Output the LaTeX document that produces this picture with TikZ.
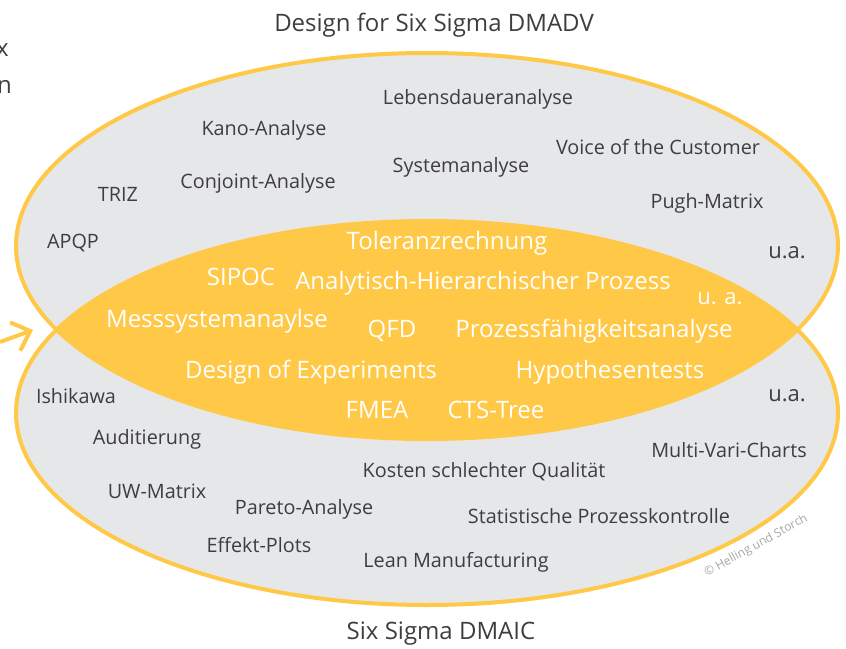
\documentclass[tikz,border=0pt]{standalone}
\usepackage{fontspec}
\setmainfont{Open Sans}
\usepackage{tikz}
\usetikzlibrary{positioning}
\usetikzlibrary{arrows.meta}
\usepackage{xcolor}
\definecolor{sigmayellow}{RGB}{255,201,71}
\definecolor{sigmagray}{RGB}{230,231,232}
\definecolor{sigmatext}{RGB}{62,62,64}

\begin{document}
\begin{tikzpicture}[
  x=1pt, y=-1pt,
  set/.style={fill=sigmagray},
  rim/.style={draw=sigmayellow, line width=4pt},
  tool/.style={text=sigmatext, inner sep=0pt, font=\fontsize{19.8}{20}\selectfont},
  core/.style={text=white, inner sep=0pt, font=\fontsize{24}{24}\selectfont},
  title/.style={text=sigmatext, inner sep=0pt, font=\fontsize{24}{24}\selectfont},
  pointer/.style={draw=sigmayellow, line width=4pt, -{Straight Barb[length=16pt,width=30pt]}}
]
\useasboundingbox (0,0) rectangle (846,648);

% The two method sets
\fill[set] (427,246) ellipse [x radius=411pt, y radius=193pt];
\fill[set] (427,413) ellipse [x radius=411pt, y radius=192pt];

% Common part
\begin{scope}
  \clip (427,246) ellipse [x radius=411pt, y radius=193pt];
  \fill[sigmayellow] (427,413) ellipse [x radius=411pt, y radius=192pt];
\end{scope}

\draw[rim] (427,246) ellipse [x radius=411pt, y radius=193pt];
\draw[rim] (427,413) ellipse [x radius=411pt, y radius=192pt];

% Titles
\node[title] (dmadv) at (434,25) {Design for Six Sigma DMADV};
\node[title] (dmaic) at (441,634) {Six Sigma DMAIC};
\node[title, anchor=east] (cutx) at (9,50) {x};
\node[title, anchor=east] (cutn) at (12,87) {n};

% Arrow from the left
\coordinate (arrstart) at (0,342);
\coordinate (arrend) at (33,330);
\draw[pointer] (arrstart) -- (arrend);

% DMADV tools
\node[tool] (lebensdauer) at (478,99) {Lebensdaueranalyse};
\node[tool] (kano) at (264,130) {Kano-Analyse};
\node[tool] (voc) at (658,147) {Voice of the Customer};
\node[tool] (system) at (461,167) {Systemanalyse};
\node[tool] (triz) at (118,194) {TRIZ};
\node[tool] (conjoint) at (258,183) {Conjoint-Analyse};
\node[tool] (pugh) at (707,203) {Pugh-Matrix};
\node[tool] (apqp) at (73,243) {APQP};
\node[tool, font=\fontsize{22}{22}\selectfont] (uatop) at (787,253) {u.a.};

% Shared tools
\node[core] (toleranz) at (447,243) {Toleranzrechnung};
\node[core] (sipoc) at (241,277) {SIPOC};
\node[core] (ahp) at (483,283) {Analytisch-Hierarchischer Prozess};
\node[core, font=\fontsize{22}{22}\selectfont] (uacore) at (720,299) {u. a.};
\node[core] (msa) at (217,321) {Messsystemanaylse};
\node[core] (qfd) at (392,331) {QFD};
\node[core] (capability) at (594,331) {Prozessfähigkeitsanalyse};
\node[core] (doe) at (311,372) {Design of Experiments};
\node[core] (hypo) at (610,372) {Hypothesentests};
\node[core] (fmea) at (377,410) {FMEA};
\node[core] (cts) at (496,410) {CTS-Tree};

% DMAIC tools
\node[tool] (ishikawa) at (76,396) {Ishikawa};
\node[tool, font=\fontsize{22}{22}\selectfont] (uabottom) at (787,396) {u.a.};
\node[tool] (audit) at (147,439) {Auditierung};
\node[tool] (multivari) at (729,450) {Multi-Vari-Charts};
\node[tool] (kosten) at (484,472) {Kosten schlechter Qualität};
\node[tool] (uw) at (157,491) {UW-Matrix};
\node[tool] (pareto) at (304,509) {Pareto-Analyse};
\node[tool] (spc) at (599,516) {Statistische Prozesskontrolle};
\node[tool] (effekt) at (259,545) {Effekt-Plots};
\node[tool] (lean) at (456,562) {Lean Manufacturing};

% Watermark
\node[text=black!35, rotate=29, inner sep=0pt, font=\fontsize{12}{12}\selectfont] (mark) at (756,546) {\textcopyright{} Helling und Storch};

\end{tikzpicture}
\end{document}
